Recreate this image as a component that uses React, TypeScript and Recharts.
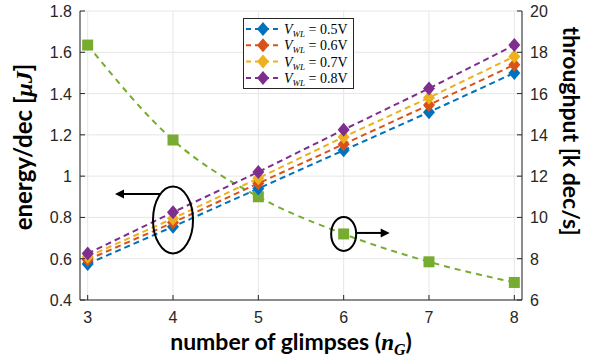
import { LineChart, Line, XAxis, YAxis, CartesianGrid, Legend, ReferenceDot } from 'recharts'

const glimpses = [3, 4, 5, 6, 7, 8]
const energy05 = [0.575, 0.755, 0.94, 1.125, 1.31, 1.5]
const energy06 = [0.595, 0.775, 0.965, 1.155, 1.345, 1.54]
const energy07 = [0.61, 0.795, 0.99, 1.19, 1.38, 1.58]
const energy08 = [0.625, 0.825, 1.02, 1.225, 1.425, 1.635]
const throughput = [18.35, 13.75, 11.0, 9.2, 7.85, 6.85]
const leftTicks = [0.4, 0.6, 0.8, 1, 1.2, 1.4, 1.6, 1.8]
const rightTicks = [6, 8, 10, 12, 14, 16, 18, 20]
const voltages = ['0.5', '0.6', '0.7', '0.8']

const colors = ['#0072BD', '#D95319', '#EDB120', '#7E2F8E']
const green = '#77AC30'
const axisColor = '#262626'
const tickFont = '"Liberation Sans", Arial, sans-serif'
const titleFont = 'Lato, "Open Sans", sans-serif'
const mathFont = '"Liberation Serif", "DejaVu Serif", serif'

const data = glimpses.map((n, i) => ({
  n,
  e05: energy05[i],
  e06: energy06[i],
  e07: energy07[i],
  e08: energy08[i],
  tp: throughput[i],
}))

const seriesKeys = ['e05', 'e06', 'e07', 'e08']

const diamond = (color: string) => (p: any) => {
  const { cx, cy, index } = p
  return (
    <path
      key={`d-${color}-${index}`}
      d={`M${cx},${cy - 7} L${cx + 6},${cy} L${cx},${cy + 7} L${cx - 6},${cy} Z`}
      fill={color}
    />
  )
}

const square = (p: any) => {
  const { cx, cy, index } = p
  return <rect key={`s-${index}`} x={cx - 5.5} y={cy - 5.5} width={11} height={11} fill={green} />
}

const fmt = (v: number) => String(+v.toFixed(1))

const LeftTick = ({ x, y, payload }: any) => (
  <g>
    <line x1={x} x2={x + 5} y1={y} y2={y} stroke={axisColor} />
    <text x={x - 8} y={y + 6} textAnchor="end" fontSize={16} fontFamily={tickFont} fill={axisColor}>
      {fmt(payload.value)}
    </text>
  </g>
)

const RightTick = ({ x, y, payload }: any) => (
  <g>
    <line x1={x} x2={x - 5} y1={y} y2={y} stroke={axisColor} />
    <text x={x + 8} y={y + 6} textAnchor="start" fontSize={16} fontFamily={tickFont} fill={axisColor}>
      {payload.value}
    </text>
  </g>
)

const BottomTick = ({ x, y, payload }: any) => (
  <g>
    <line x1={x} x2={x} y1={y} y2={y - 5} stroke={axisColor} />
    <text x={x} y={y + 23} textAnchor="middle" fontSize={16} fontFamily={tickFont} fill={axisColor}>
      {payload.value}
    </text>
  </g>
)

const XTitle = ({ viewBox }: any) => (
  <text
    x={viewBox.x + viewBox.width / 2 - 10}
    y={viewBox.y + 50}
    textAnchor="middle"
    fontSize={23}
    fontWeight="bold"
    fontFamily={titleFont}
    fill="#000"
  >
    number of glimpses (
    <tspan fontFamily={mathFont} fontStyle="italic">n</tspan>
    <tspan fontFamily={mathFont} fontStyle="italic" fontSize={16} dy={5}>G</tspan>
    <tspan dy={-5}>)</tspan>
  </text>
)

const LeftTitle = () => (
  <text
    transform="translate(32,147) rotate(-90)"
    textAnchor="middle"
    fontSize={24}
    fontWeight="bold"
    fontFamily={titleFont}
    fill="#000"
  >
    energy/dec [<tspan fontFamily={mathFont} fontStyle="italic">μJ</tspan>]
  </text>
)

const RightTitle = () => (
  <text
    transform="translate(563,131) rotate(90)"
    textAnchor="middle"
    fontSize={23}
    fontWeight="bold"
    fontFamily={titleFont}
    fill="#000"
  >
    throughput [k dec/s]
  </text>
)

const LegendBox = () => (
  <svg width={112} height={72} style={{ display: 'block' }}>
    <rect x={0.5} y={0.5} width={110} height={70} fill="#fff" stroke={axisColor} />
    {voltages.map((v, i) => {
      const y = 11 + i * 16.3
      return (
        <g key={v}>
          <line x1={3} x2={37} y1={y} y2={y} stroke={colors[i]} strokeWidth={2} strokeDasharray="5 4" />
          <path d={`M20,${y - 7} L26,${y} L20,${y + 7} L14,${y} Z`} fill={colors[i]} />
          <text x={41} y={y + 5} fontSize={14} fontFamily={mathFont} fill="#000">
            <tspan fontStyle="italic">V</tspan>
            <tspan fontStyle="italic" fontSize={9} dy={3}>WL</tspan>
            <tspan dy={-3}> = {v}V</tspan>
          </text>
        </g>
      )
    })}
  </svg>
)

const EnergyMark = (p: any) => {
  const { cx, cy } = p
  const ay = cy - 26
  return (
    <g>
      <ellipse cx={cx} cy={cy} rx={20} ry={33.5} fill="none" stroke="#000" strokeWidth={2} />
      <line x1={cx - 13} x2={cx - 50} y1={ay} y2={ay} stroke="#000" strokeWidth={2} />
      <path d={`M${cx - 58},${ay} L${cx - 49},${ay - 4.5} L${cx - 49},${ay + 4.5} Z`} fill="#000" />
    </g>
  )
}

const ThroughputMark = (p: any) => {
  const { cx, cy } = p
  return (
    <g>
      <ellipse cx={cx} cy={cy} rx={12.5} ry={17} fill="none" stroke="#000" strokeWidth={2} />
      <line x1={cx + 12} x2={cx + 38} y1={cy - 1} y2={cy - 1} stroke="#000" strokeWidth={2} />
      <path d={`M${cx + 46},${cy - 1} L${cx + 37},${cy - 5.5} L${cx + 37},${cy + 3.5} Z`} fill="#000" />
    </g>
  )
}

export default function App() {
  return (
    <div style={{ position: 'absolute', left: 0, top: 0, background: '#fff' }}>
      <LineChart width={592} height={357} data={data} margin={{ top: 11, right: 0, bottom: 0, left: 0 }}>
        <CartesianGrid yAxisId="left" stroke="#e6e6e6" strokeWidth={1} />
        <XAxis
          dataKey="n"
          type="number"
          domain={[2.91, 8.09]}
          ticks={glimpses}
          allowDataOverflow
          height={57}
          stroke={axisColor}
          tickLine={false}
          tickSize={0}
          tickMargin={0}
          tick={<BottomTick />}
          label={<XTitle />}
        />
        <YAxis
          yAxisId="left"
          domain={[0.4, 1.8]}
          ticks={leftTicks}
          width={80}
          stroke={axisColor}
          tickLine={false}
          tickSize={0}
          tickMargin={0}
          tick={<LeftTick />}
          label={<LeftTitle />}
          allowDataOverflow
        />
        <YAxis
          yAxisId="right"
          orientation="right"
          domain={[6, 20]}
          ticks={rightTicks}
          width={70}
          stroke={axisColor}
          tickLine={false}
          tickSize={0}
          tickMargin={0}
          tick={<RightTick />}
          label={<RightTitle />}
          allowDataOverflow
        />
        <Legend
          layout="vertical"
          align="center"
          verticalAlign="middle"
          content={<LegendBox />}
          wrapperStyle={{ position: 'absolute', left: 243, top: 18, width: 112, height: 72 }}
        />
        <Line
          yAxisId="right"
          dataKey="tp"
          stroke={green}
          strokeWidth={2}
          strokeDasharray="6 5"
          type="monotone"
          dot={square}
          activeDot={false}
          isAnimationActive={false}
        />
        {seriesKeys.map((k, i) => (
          <Line
            key={k}
            yAxisId="left"
            dataKey={k}
            stroke={colors[i]}
            strokeWidth={2}
            strokeDasharray="6 4"
            type="linear"
            dot={diamond(colors[i])}
            activeDot={false}
            isAnimationActive={false}
          />
        ))}
        <ReferenceDot yAxisId="left" x={4} y={0.788} shape={EnergyMark} />
        <ReferenceDot yAxisId="right" x={6} y={9.2} shape={ThroughputMark} />
      </LineChart>
    </div>
  )
}
